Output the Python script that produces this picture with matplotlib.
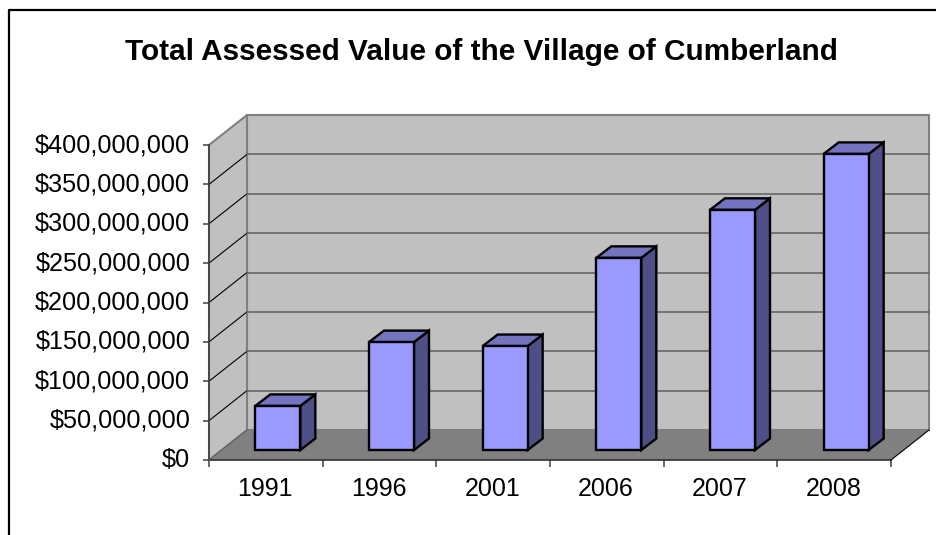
import matplotlib
matplotlib.use('Agg')
import matplotlib.pyplot as plt
from matplotlib.lines import Line2D
from matplotlib.patches import Polygon

plt.rcParams['font.family'] = ['Liberation Sans', 'DejaVu Sans']

years = ['1991', '1996', '2001', '2006', '2007', '2008']
values = [56e6, 137e6, 132e6, 244e6, 305e6, 376e6]
y_ticks = [0, 50e6, 100e6, 150e6, 200e6, 250e6, 300e6, 350e6, 400e6]
title = 'Total Assessed Value of the Village of Cumberland'

W, H = 936, 535
x0, x1, y0, y1 = 209, 891, 460, 145

fig = plt.figure(figsize=(W / 100, H / 100), dpi=100, facecolor='white')
ax = fig.add_axes([x0 / W, (H - y0) / H, (x1 - x0) / W, (y0 - y1) / H])
ax.set_xlim(0, 6)
ax.set_ylim(0, 400e6)
ax.patch.set_visible(False)
for s in ax.spines.values():
    s.set_visible(False)

# depth of the fake 3d box, in data units
dx = 38 / (x1 - x0) * 6
dy = 30 / (y0 - y1) * 400e6
top = y_ticks[-1]


def poly(pts, fc, ec='none', lw=0, z=1):
    ax.add_patch(Polygon(pts, closed=True, facecolor=fc, edgecolor=ec, linewidth=lw,
                         joinstyle='miter', clip_on=False, zorder=z))


# walls and floor
poly([(dx, dy), (6 + dx, dy), (6 + dx, top + dy), (dx, top + dy)], '#c0c0c0', '#808080', 1.5)
poly([(0, 0), (dx, dy), (dx, top + dy), (0, top)], '#c0c0c0', '#808080', 1.5)
poly([(0, 0), (6, 0), (6 + dx, dy), (dx, dy)], '#808080')

# gridlines
for t in y_ticks[1:-1]:
    ax.plot([0, dx], [t, t + dy], color='black', lw=0.8, clip_on=False, zorder=2)
    ax.plot([dx, 6 + dx], [t + dy, t + dy], color='#666666', lw=1.2, clip_on=False, zorder=2)

# outer edges
ax.plot([0, 0], [0, top], color='#404040', lw=1.2, clip_on=False, zorder=3)
ax.plot([0, 6], [0, 0], color='#303030', lw=1.2, clip_on=False, zorder=3)
ax.plot([6, 6 + dx], [0, dy], color='black', lw=0.8, clip_on=False, zorder=3)
ax.plot([0, dx], [0, dy], color='#606060', lw=0.8, clip_on=False, zorder=3)

# bars
bar_w = 45 / (x1 - x0) * 6
off_x = 12 / (x1 - x0) * 6
off_y = 10 / (y0 - y1) * 400e6
bdx = 15 / (x1 - x0) * 6
bdy = 11.5 / (y0 - y1) * 400e6
for i, v in enumerate(values):
    l = i + 0.5 - bar_w / 2 + off_x
    r = l + bar_w
    b = off_y
    t = off_y + v
    poly([(r, b), (r + bdx, b + bdy), (r + bdx, t + bdy), (r, t)], '#4f4f87', 'black', 1.7, 5)
    poly([(l, t), (r, t), (r + bdx, t + bdy), (l + bdx, t + bdy)], '#7373bf', 'black', 1.7, 5)
    poly([(l, b), (r, b), (r, t), (l, t)], '#9999ff', 'black', 1.7, 6)

ax.set_yticks(y_ticks)
ax.set_yticklabels(['${:,.0f}'.format(t) for t in y_ticks], fontsize=18.2, va='center')
ax.set_xticks(range(7))
ax.set_xticklabels([])
ax.set_xticks([i + 0.5 - 0.008 for i in range(6)], labels=years, minor=True, fontsize=18)
ax.tick_params(axis='y', length=4.5, width=1.1, color='#404040', pad=9)
ax.tick_params(axis='x', which='major', length=5, width=1.1, color='#404040')
ax.tick_params(axis='x', which='minor', length=0, pad=12)

fig.text(481 / W, 1 - 52 / H, title, fontsize=21.4, fontweight='bold', ha='center', va='center')

# chart frame, only top and left fall inside the picture
fig.add_artist(Line2D([9 / W, 9 / W, 1], [0, 1 - 10 / H, 1 - 10 / H], color='black', lw=1.6))

fig.savefig('out.png', dpi=100)
